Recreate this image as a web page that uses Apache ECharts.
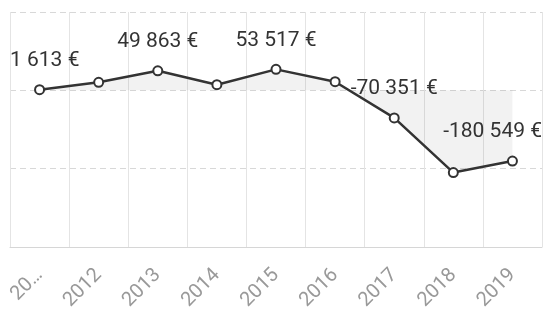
<!DOCTYPE html>
<html>
<head>
<meta charset="utf-8">
<script src="https://cdn.jsdelivr.net/npm/echarts@6/dist/echarts.min.js"></script>
<style>
html,body{margin:0;padding:0;background:#fff;}
#c{width:544px;height:318px;}
</style>
</head>
<body>
<div id="c"></div>
<script>
var categories = ["20…", "2012", "2013", "2014", "2015", "2016", "2017", "2018", "2019"];
var values = [1613, 20600, 49863, 14300, 53517, 22000, -70351, -210000, -180549];
var yTicks = [-400000, -200000, 0, 200000];

function fmt(v) {
  var s = Math.abs(Math.round(v)).toString().replace(/\B(?=(\d{3})+(?!\d))/g, " ");
  return (v < 0 ? "-" : "") + s + " €";
}

var chart = echarts.init(document.getElementById('c'), null, {renderer: 'canvas'});
var gridL = 10, gridR = 2, W = 544;
chart.setOption({
  animation: false,
  backgroundColor: '#fff',
  textStyle: {fontFamily: 'Roboto'},
  grid: {left: gridL, right: gridR, top: 12, bottom: 71, containLabel: false},
  xAxis: {
    type: 'category',
    data: categories,
    boundaryGap: true,
    axisLine: {show: true, onZero: false, lineStyle: {color: '#d6d6d6', width: 1}},
    axisTick: {show: false},
    axisLabel: {rotate: 45, color: '#999', fontSize: 20, margin: 25, interval: 0, fontFamily: 'Roboto'},
    splitLine: {show: true, lineStyle: {color: '#e4e4e4', width: 1}}
  },
  yAxis: {
    type: 'value',
    min: yTicks[0],
    max: yTicks[yTicks.length - 1],
    interval: 200000,
    axisLabel: {show: false},
    axisLine: {show: false},
    axisTick: {show: false},
    splitLine: {show: true, lineStyle: {color: '#d8d8d8', type: [6, 4], width: 1}}
  },
  series: [{
    type: 'line',
    data: values,
    symbol: 'emptyCircle',
    symbolSize: 9,
    lineStyle: {color: '#333', width: 2.5},
    itemStyle: {color: '#333', borderColor: '#333', borderWidth: 2},
    areaStyle: {color: 'rgba(0,0,0,0.07)'},
    label: {
      show: true,
      position: 'top',
      distance: 13,
      color: '#333',
      fontSize: 21,
      fontFamily: 'Roboto',
      formatter: function (p) { return p.dataIndex % 2 === 0 ? fmt(p.value) : ''; }
    },
    labelLayout: function (p) {
      var r = p.labelRect;
      var right = W - gridR;
      if (r.x + r.width > right) return {dx: right - (r.x + r.width)};
      if (r.x < gridL) return {dx: gridL - r.x};
      return {};
    }
  }]
});
</script>
</body>
</html>
